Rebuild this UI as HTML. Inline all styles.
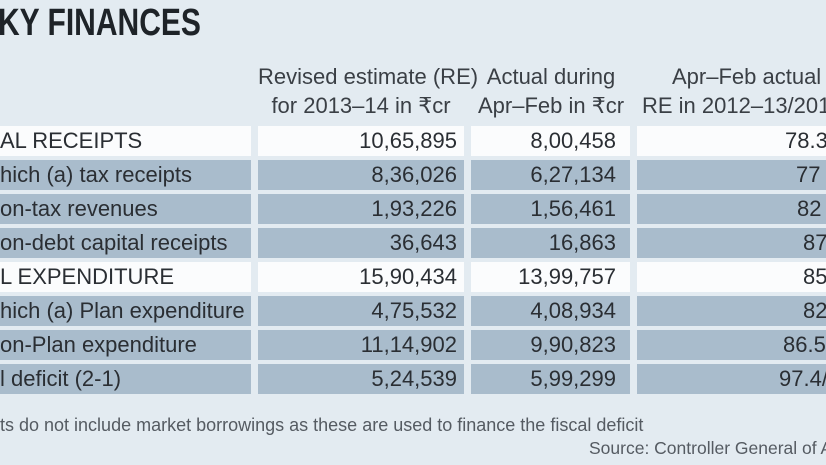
<!DOCTYPE html>
<html><head><meta charset="utf-8"><style>
body{margin:0;width:826px;height:465px;overflow:hidden;background:#e3ebf1;position:relative;font-family:"Liberation Sans","DejaVu Sans",sans-serif;color:#2a2e33}
.a{position:absolute;white-space:nowrap}
.b{position:absolute;height:30px}
.w{background:#fbfcfd}.g{background:#a9bccc}
.t{font-size:22px;line-height:30px}
.r{text-align:right}
</style></head><body>
<div class="a" style="left:-2px;top:2px;font-size:38px;font-weight:bold;color:#1e2328;transform:scaleX(0.79);transform-origin:0 0">KY FINANCES</div>
<div class="a t" style="left:258px;width:206px;top:62px;text-align:center;color:#3a3f45">Revised estimate (RE)</div>
<div class="a t" style="left:258px;width:206px;top:91px;text-align:center;color:#3a3f45">for 2013–14 in ₹cr</div>
<div class="a t" style="left:471px;width:160px;top:62px;text-align:center;color:#3a3f45">Actual during</div>
<div class="a t" style="left:471px;width:160px;top:91px;text-align:center;color:#3a3f45">Apr–Feb in ₹cr</div>
<div class="a t" style="left:672px;top:62px;color:#3a3f45">Apr–Feb actual as</div>
<div class="a t" style="left:642px;top:91px;color:#3a3f45">RE in 2012–13/2013</div>

<div id="rows"></div>
<script>
var d=[["AL RECEIPTS","10,65,895","8,00,458","78.3",785,1],
["hich (a) tax receipts","8,36,026","6,27,134","77",796,0],
["on-tax revenues","1,93,226","1,56,461","82",797,0],
["on-debt capital receipts","36,643","16,863","87",803,0],
["L EXPENDITURE","15,90,434","13,99,757","85",803,1],
["hich (a) Plan expenditure","4,75,532","4,08,934","82",803,0],
["on-Plan expenditure","11,14,902","9,90,823","86.5",783,0],
["l deficit (2-1)","5,24,539","5,99,299","97.4/",779,0]];
var h="";
d.forEach(function(r,i){var y=126+i*34,c=r[5]?"w":"g";
h+='<div class="b '+c+'" style="left:0;width:251px;top:'+y+'px"></div>';
h+='<div class="b '+c+'" style="left:258px;width:206px;top:'+y+'px"></div>';
h+='<div class="b '+c+'" style="left:471px;width:159px;top:'+y+'px"></div>';
h+='<div class="b '+c+'" style="left:637px;width:189px;top:'+y+'px"></div>';
h+='<div class="a t" style="left:0;top:'+y+'px">'+r[0]+'</div>';
h+='<div class="a t r" style="left:258px;width:199px;top:'+y+'px">'+r[1]+'</div>';
h+='<div class="a t r" style="left:471px;width:145px;top:'+y+'px">'+r[2]+'</div>';
h+='<div class="a t" style="left:'+r[4]+'px;top:'+y+'px">'+r[3]+'</div>';});
document.getElementById("rows").innerHTML=h;
</script>
<div class="a" style="left:0;top:415px;font-size:18px;color:#555b62">ts do not include market borrowings as these are used to finance the fiscal deficit</div>
<div class="a" style="left:589px;top:438px;font-size:17.5px;color:#555b62">Source: Controller General of Ac</div>
</body></html>
